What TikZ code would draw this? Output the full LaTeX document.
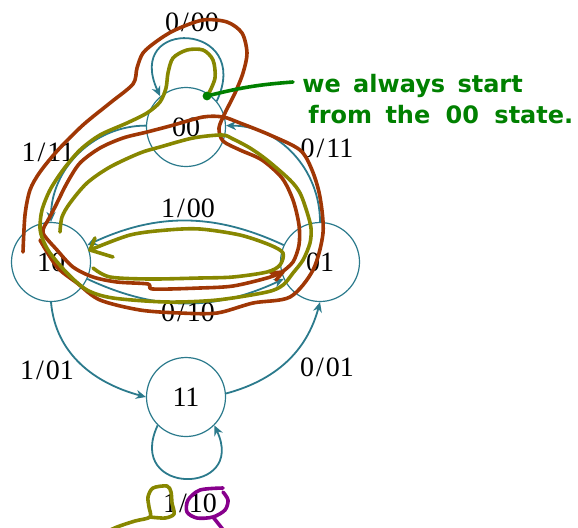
\documentclass[tikz,border=0pt]{standalone}
\usepackage{fontspec}
\setmainfont{Liberation Serif}
\newfontfamily\handfont{DejaVu Sans}
\usetikzlibrary{arrows.meta}
\definecolor{stateteal}{RGB}{43,122,140}
\definecolor{penbrown}{RGB}{160,55,5}
\definecolor{penolive}{RGB}{135,135,0}
\definecolor{pengreen}{RGB}{0,128,0}
\definecolor{penpurple}{RGB}{135,0,140}
\newcommand{\io}[2]{#1\kern1pt/\kern1pt#2}
\begin{document}
\begin{tikzpicture}[x=0.5pt,y=-0.5pt,>={Stealth[length=5pt,width=4.5pt]},
    state/.style={circle,draw=stateteal,line width=0.6pt,minimum size=39.5pt,inner sep=0pt},
    trans/.style={->,draw=stateteal,line width=0.9pt},
    pen/.style={line width=1.8pt,line cap=round,line join=round},
    note/.style={anchor=base west,inner sep=0pt,text=pengreen,font=\handfont\bfseries\fontsize{12}{14}\selectfont},
    every node/.style={font=\fontsize{14}{16}\selectfont}]
        \clip (0,0) rectangle (578,527);
        \node[state] (n00) at (186,127) {00};
        \node[state] (n10) at (51,262) {10};
        \node[state] (n01) at (320,262) {01};
        \node[state] (n11) at (186,397) {11};
        \draw[trans] (n00.40) to[out=65,in=115,distance=44pt] (n00.130);
        \draw[trans] (n00.178) to[out=180,in=90] (n10.north);
        \draw[trans] (n01.north) to[out=90,in=0] (n00.2);
        \draw[trans] (n01) to[bend right=25] (n10);
        \draw[trans] (n10) to[bend right=25] (n01);
        \draw[trans] (n10.south) to[out=-85,in=165] (n11.west);
        \draw[trans] (n11.5) to[out=15,in=-105] (n01.south);
        \draw[trans] (n11.225) to[out=245,in=295,distance=39pt] (n11.-45);
        \node (o000) at (192,22) {\io{0}{00}};
        \node (o111) at (48,152) {\io{1}{11}};
        \node (o011) at (327,148) {\io{0}{11}};
        \node (o100) at (188,208) {\io{1}{00}};
        \node (o010) at (188,312) {\io{0}{10}};
        \node (o101) at (47,370) {\io{1}{01}};
        \node (o001) at (327,367) {\io{0}{01}};
        \node (o110) at (190,503) {\io{1}{10}};
        % pen marks
        \draw[pen,penbrown] plot[smooth,tension=0.5] coordinates {(23,252) (25,215) (30,190) (40,172) (58,150) (83,125) (110,103) (133,84) (137,68) (143,53) (157,41) (175,30) (203,20) (227,22) (242,33) (247,53) (243,73) (235,93) (225,113) (219,128) (223,141) (240,150) (262,160) (282,178) (293,200) (299,225) (299,245) (293,262) (282,272)};
        \draw[pen,penbrown] plot[smooth,tension=0.5] coordinates {(47,222) (43,233) (57,250) (73,267) (93,277) (117,282) (148,284) (153,289) (200,288) (233,286) (267,278) (283,272)};
        \draw[pen,penbrown] (283,272) -- (271,273) (283,272) -- (276,280);
        \draw[pen,penbrown] plot[smooth,tension=0.5] coordinates {(47,222) (55,207) (67,183) (80,163) (100,148) (123,138) (147,132) (170,126) (203,117) (223,117) (240,123) (270,135) (300,150) (312,170) (320,197) (323,233) (313,270) (290,297) (253,303) (217,313) (180,313) (140,310) (100,300) (77,283) (57,267) (40,240)};
        \draw[pen,penolive] plot[smooth,tension=0.5] coordinates {(208,95) (215,78) (213,60) (203,50) (187,50) (173,58) (168,73) (166,88) (160,102) (147,113) (127,123) (100,135) (80,150) (63,170) (50,190) (42,210) (40,228) (43,240) (50,253) (67,273) (87,290) (113,298) (167,302) (217,300) (267,292) (283,285) (293,273) (303,260) (310,243) (311,228) (307,212) (300,193) (290,180) (267,160) (250,148) (233,139) (222,135) (193,138) (160,147) (140,153) (110,167) (87,183) (70,203) (62,217) (60,232)};
        \draw[pen,penolive] plot[smooth,tension=0.5] coordinates {(93,268) (110,277) (150,279) (200,278) (233,277) (267,272) (280,265) (283,253) (270,245) (240,235) (200,229) (167,230) (130,235) (90,250)};
        \draw[pen,penolive] (95,238) -- (90,250) -- (113,257);
        \draw[pen,penolive] plot[smooth,tension=0.5] coordinates {(100,535) (117,527) (135,521) (150,517) (149,507) (148,497) (153,488) (167,486) (171,492) (172,503) (174,514) (165,518) (150,517)};
        \draw[pen,penpurple] plot[smooth,tension=0.5] coordinates {(223,488) (200,490) (188,500) (187,512) (197,518) (213,517) (225,510) (228,500) (223,492)};
        \draw[pen,penpurple] (213,517) -- (225,532);
        % note
        \coordinate (gdot) at (207,96);
        \coordinate (gtail) at (293,82);
        \fill[pengreen] (gdot) circle[radius=2.2pt];
        \draw[pen,pengreen] (gdot) to[bend left=5] (gtail);
        \node[note] (note1) at (302,92) {we\hspace{2pt} always\hspace{2pt} start};
        \node[note] (note2) at (308,123) {from\hspace{2.5pt} the\hspace{3.5pt} 00\hspace{3.5pt} state.};
\end{tikzpicture}
\end{document}
